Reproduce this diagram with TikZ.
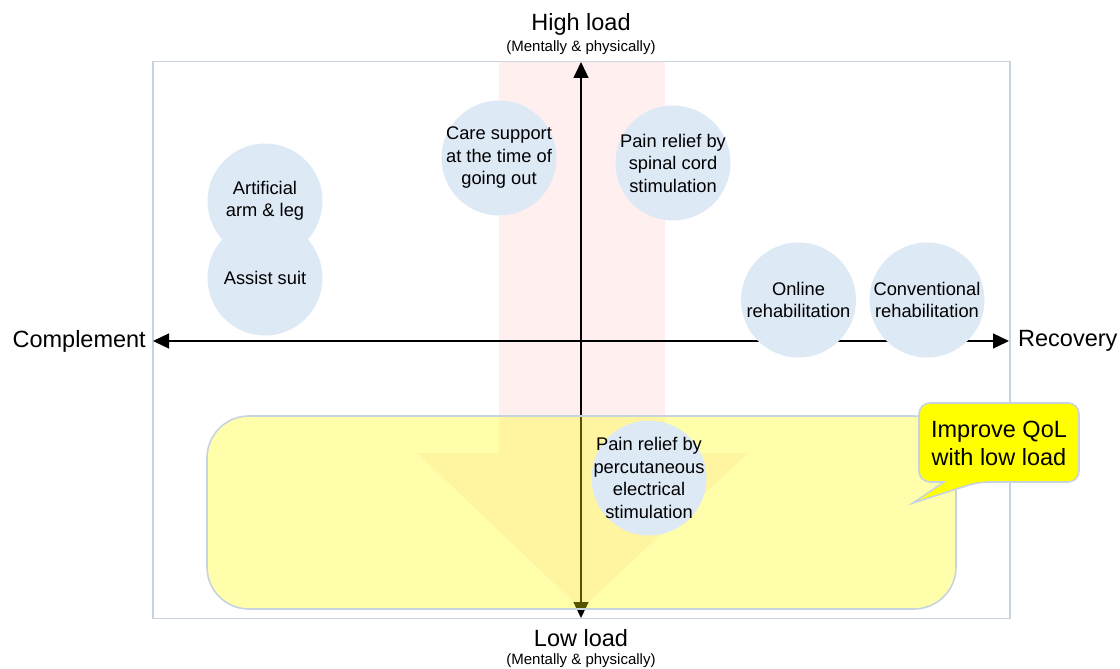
\documentclass[tikz,border=0pt]{standalone}
\usepackage{fontspec}
\setmainfont{Liberation Sans}
\usetikzlibrary{arrows.meta}
\definecolor{framec}{HTML}{C8D3E0}
\definecolor{circc}{HTML}{DEE9F6}
\definecolor{pinkc}{HTML}{FFEFEF}
\definecolor{yelc}{HTML}{FFFF00}
\tikzset{
  bub/.style={circle,fill=circc,draw=none,minimum size=115pt,inner sep=0pt},
  btxt/.style={align=center,font=\fontsize{18.3}{22.5}\selectfont,inner sep=0pt},
  axis/.style={line width=1.3pt,{Triangle[length=16pt,width=15pt]}-{Triangle[length=16pt,width=15pt]}},
  axlab/.style={font=\fontsize{23.5}{27}\selectfont,inner sep=0pt},
  sublab/.style={font=\fontsize{15}{17}\selectfont,inner sep=0pt},
}
\begin{document}
\begin{tikzpicture}[x=1pt,y=-1pt]
\useasboundingbox (0,0) rectangle (1120,669);
% frame
\node[draw=framec,line width=1.6pt,minimum width=857pt,minimum height=557pt,inner sep=0pt] (frame) at (581.5,340) {};
% pink down arrow
\fill[pinkc] (499,62) -- (665,62) -- (665,453) -- (748,453) -- (581,609) -- (417,453) -- (499,453) -- cycle;
% axes
\coordinate (ytop) at (581,62);
\coordinate (ybot) at (581,618);
\coordinate (xl) at (153,341);
\coordinate (xr) at (1009,341);
\draw[axis] (ybot) -- (ytop);
\draw[axis] (xl) -- (xr);
% bubbles
\node[bub] (arm) at (265,201) {};
\node[btxt] (armt) at (arm.center) {Artificial\\arm \& leg};
\node[bub] (suit) at (265,278) {};
\node[btxt] (suitt) at (suit.center) {Assist suit};
\node[bub] (care) at (499,158) {};
\node[btxt] (caret) at (care.center) {Care support\\at the time of\\going out};
\node[bub] (spinal) at (673,163) {};
\node[btxt] (spinalt) at (spinal.center) {Pain relief by\\spinal cord\\stimulation};
\node[bub] (online) at (798.5,300) {};
\node[btxt] (onlinet) at (online.center) {Online\\rehabilitation};
\node[bub] (conv) at (927,300) {};
\node[btxt] (convt) at (conv.center) {Conventional\\rehabilitation};
% yellow box
\draw[fill=yelc,fill opacity=0.33,draw=framec,line width=1.6pt,rounded corners=42pt] (207,416) rectangle (956,609);
% percutaneous
\node[bub] (perc) at (649,478) {};
\node[btxt] (perct) at (perc.center) {Pain relief by\\percutaneous\\electrical\\stimulation};
% callout
\draw[fill=yelc,draw=framec,line width=1.6pt,rounded corners=11pt]
  (919,403) -- (1079,403) -- (1079,482) -- (978,482) [sharp corners] -- (913,503) -- (944,482) [rounded corners=11pt] -- (919,482) -- cycle;
\node[align=center,font=\fontsize{23.5}{28}\selectfont,inner sep=0pt] (callt) at (999,443) {Improve QoL\\with low load};
% labels
\node[axlab,anchor=east] (comp) at (146,341) {Complement};
\node[axlab,anchor=west] (rec) at (1018,341) {Recovery};
\node[axlab] (high) at (581,24) {High load};
\node[sublab] (highs) at (581,48) {(Mentally \& physically)};
\node[axlab] (low) at (581,638) {Low load};
\node[sublab] (lows) at (581,661) {(Mentally \& physically)};
\end{tikzpicture}
\end{document}
